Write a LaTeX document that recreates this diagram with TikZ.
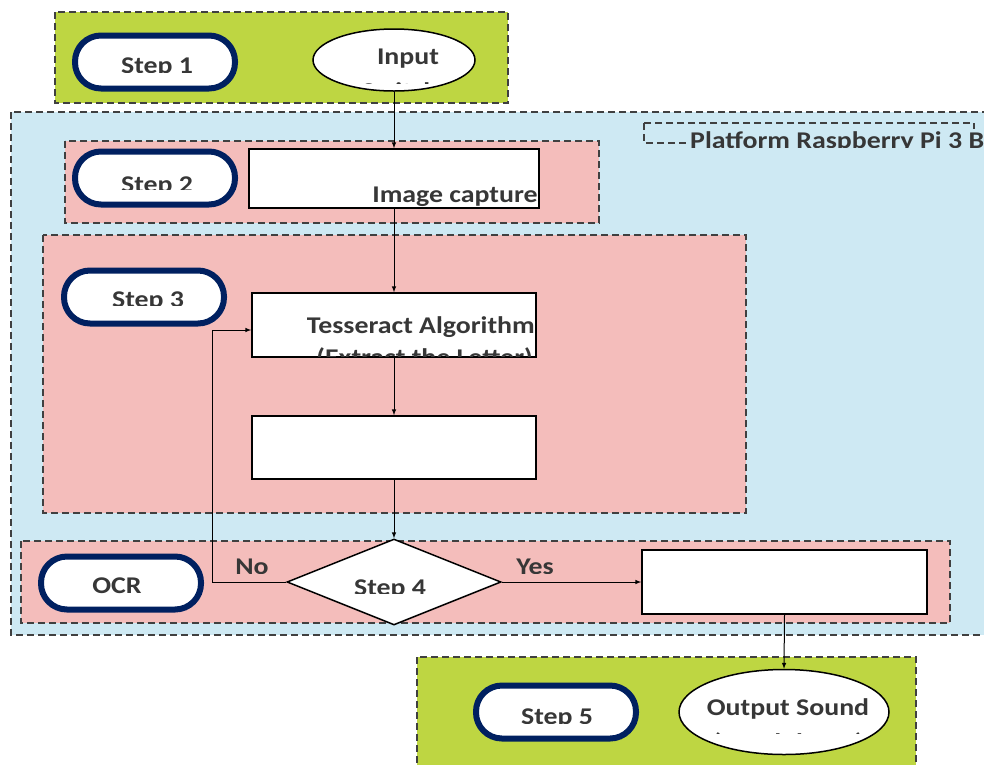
\documentclass[tikz,border=0pt]{standalone}
\usepackage{fontspec}
\newfontfamily\boxfont{Carlito}[FakeStretch=1.16]
\usepackage{tikz}
\usetikzlibrary{positioning,arrows,shapes.geometric}

\definecolor{boxgreen}{RGB}{190,214,66}
\definecolor{boxblue}{RGB}{206,233,243}
\definecolor{boxpink}{RGB}{244,189,187}
\definecolor{pillnavy}{RGB}{0,32,96}
\definecolor{txtgray}{RGB}{55,55,55}

\begin{document}
\begin{tikzpicture}[x=1pt, y=-1pt,
  frame/.style={draw=black!75, line width=1.2pt, dash pattern=on 7pt off 4pt},
  pill/.style={draw=pillnavy, line width=6pt, fill=white, rounded corners=26pt,
               minimum width=160pt, minimum height=53pt, inner sep=0pt},
  blob/.style={ellipse, draw, line width=1.5pt, fill=white, inner sep=0pt},
  proc/.style={draw, line width=1.5pt, fill=white, inner sep=0pt,
               minimum width=284pt, minimum height=63pt},
  test/.style={diamond, draw, line width=1.5pt, fill=white, inner sep=0pt,
               minimum width=214pt, minimum height=86pt},
  lbl/.style={font=\boxfont\bfseries\fontsize{24}{28}\selectfont,
              text=txtgray, inner sep=0pt, anchor=base},
  arr/.style={-latex, line width=1pt}]

  \clip (0,0) rectangle (984,764);

  % ---- Background panels ----------------------------------------
  \draw[frame, fill=boxblue]  (11,112)  rectangle (1000,635);  % platform
  \draw[frame, fill=boxgreen] (55,12)   rectangle (508,103);   % step 1
  \draw[frame, fill=boxgreen] (417,657) rectangle (916,790);   % step 5
  \draw[frame, fill=boxpink]  (65,141)  rectangle (599,223);   % step 2
  \draw[frame, fill=boxpink]  (43,235)  rectangle (746,513);   % step 3
  \draw[frame, fill=boxpink]  (21,541)  rectangle (950,623);   % ocr
  \draw[frame] (644,123) rectangle (974,143);                   % platform tag

  % ---- Step pills -----------------------------------------------
  \node[pill] (s1)  at (155,62)  {};
  \node[pill] (s2)  at (155,178) {};
  \node[pill] (s3)  at (144,297) {};
  \node[pill] (ocr) at (121,583) {};
  \node[pill] (s5)  at (556,712) {};

  % ---- Flow nodes -----------------------------------------------
  \node[blob, minimum width=162pt, minimum height=62pt] (input)  at (394,60)  {};
  \node[proc, minimum width=290pt, minimum height=59pt] (cap)    at (394,178.5) {};
  \node[proc, minimum height=64pt]                      (tess)   at (394,325) {};
  \node[proc]                                           (blank)  at (394,447.5) {};
  \node[test]                                           (dec)    at (394,582) {};
  \node[proc, minimum width=285pt, minimum height=64pt] (result) at (784.5,582) {};
  \node[blob, minimum width=210pt, minimum height=85pt] (output) at (784,712) {};
  \coordinate (nocorner) at (212,330);

  % ---- Connectors -----------------------------------------------
  \draw[arr] (input.south) -- (cap.north);
  \draw[arr] (cap.south)   -- (tess.north);
  \draw[arr] (tess.south)  -- (blank.north);
  \draw[arr] (blank.south) -- (dec.north);
  \draw[arr] (dec.west) -| (nocorner) -- ([yshift=-5pt]tess.west);
  \draw[arr] (dec.east)    -- (result.west);
  \draw[arr] (result.south) -- (output.north);

  % ---- Labels (cut off like the text boxes) ---------------------
  \begin{scope}
    \clip (90,40) rectangle (220,72);
    \node[lbl] (t1) at (157,73) {Step 1};
  \end{scope}
  \node[lbl] (tin) at (408,64) {Input};
  \begin{scope}
    \clip (330,70) rectangle (470,83);
    \node[lbl] (tin2) at (400,99) {Switch};
  \end{scope}
  \begin{scope}
    \clip (90,160) rectangle (220,189);
    \node[lbl] (t2) at (157,192) {Step 2};
  \end{scope}
  \node[lbl] (tcap) at (455,202) {Image capture};
  \begin{scope}
    \clip (80,280) rectangle (210,305);
    \node[lbl] (t3) at (148,307) {Step 3};
  \end{scope}
  \begin{scope}
    \clip (253,294) rectangle (535,356);
    \node[lbl, anchor=base east] (ttess)  at (535,333) {Tesseract Algorithm};
    \node[lbl, anchor=base east] (ttess2) at (533,365) {(Extract the Letter)};
  \end{scope}
  \node[lbl] (tocr) at (117,593) {OCR};
  \begin{scope}
    \clip (220,550) rectangle (290,573);
    \node[lbl] (tno) at (252,574) {No};
  \end{scope}
  \begin{scope}
    \clip (330,570) rectangle (450,593);
    \node[lbl] (t4) at (390,595) {Step 4};
  \end{scope}
  \begin{scope}
    \clip (500,550) rectangle (580,573);
    \node[lbl] (tyes) at (535,574) {Yes};
  \end{scope}
  \begin{scope}
    \clip (490,695) rectangle (630,723);
    \node[lbl] (t5) at (557,724) {Step 5};
  \end{scope}
  \node[lbl] (tout) at (788,715) {Output Sound};
  \begin{scope}
    \clip (690,722) rectangle (880,733);
    \node[lbl] (tout2) at (788,750) {(Headphone)};
  \end{scope}
  \begin{scope}
    \clip (650,120) rectangle (984,147);
    \node[lbl, anchor=base west, fill=boxblue, inner ysep=2pt] (tplat)
      at (690,148) {Platform Raspberry Pi 3 B};
  \end{scope}

\end{tikzpicture}
\end{document}
